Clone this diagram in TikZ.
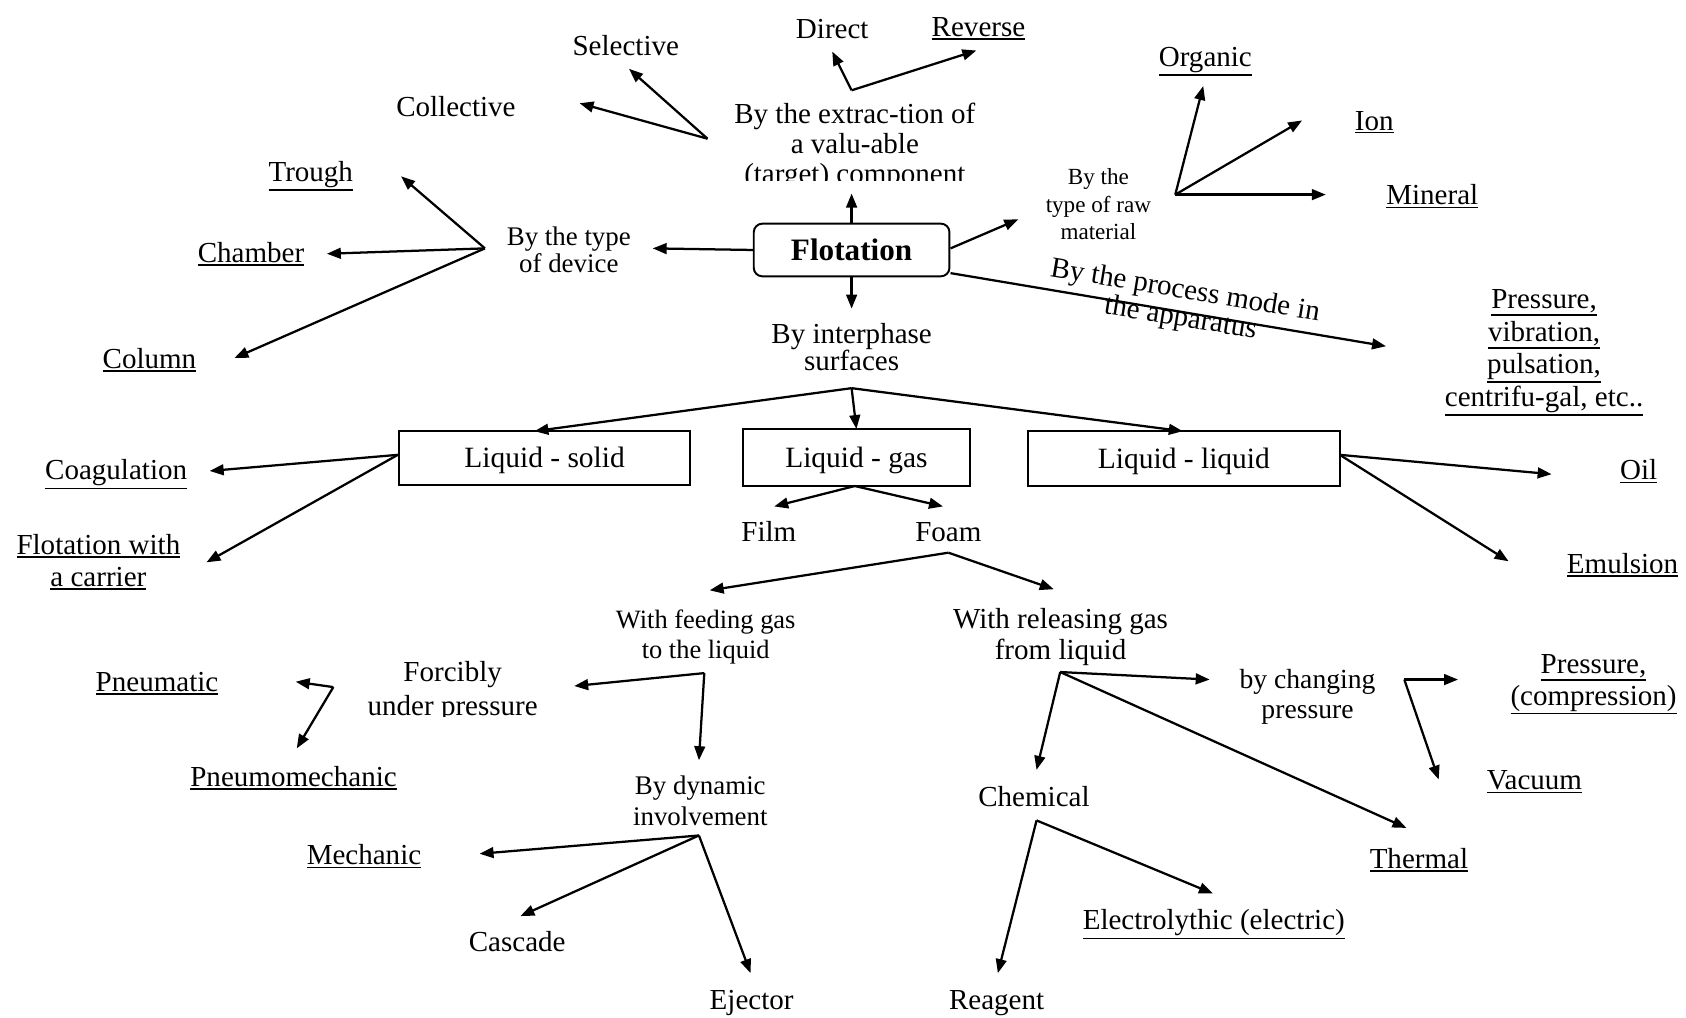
\documentclass[tikz,border=0pt]{standalone}
\usepackage{fontspec}
\setmainfont{Liberation Serif}
\usetikzlibrary{arrows.meta}
\newcommand\fs[2]{\fontsize{\fpeval{#1/2}pt}{\fpeval{#2/2}pt}\selectfont}
\newcommand\ul[1]{\setbox0=\hbox{#1}\leavevmode\rlap{\rule[\dimexpr-\dp0-1.4pt\relax]{\wd0}{0.8pt}}\box0}
\tikzset{
  every node/.style={inner sep=0pt, outer sep=0pt},
  lbl/.style={anchor=base, align=center, font=\fs{27}{28}},
  arr/.style={line width=1.05pt, -{Triangle[length=6.5pt,width=5pt]}},
  box/.style={draw, line width=0.8pt, font=\fs{27.4}{28}, text height=9pt, text depth=0pt},
  flotbox/.style={draw, line width=0.9pt, rounded corners=4pt, font=\bfseries\fs{29}{29}, text height=9.6pt, text depth=0pt,
     minimum width=91pt, minimum height=24.5pt}
}
\begin{document}
\begin{tikzpicture}[x=0.5pt,y=-0.5pt]
\useasboundingbox (0,0) rectangle (1568,946);

% ---------- text nodes (multi-line: base = last line) ----------
\node[lbl] (sel) at (582,52) {Selective};
\node[lbl] (dir) at (774,36) {Direct};
\node[lbl] (rev) at (910,34) {\ul{Reverse}};
\node[lbl] (col) at (424,108.5) {Collective};
\begin{scope}
  \clip (600,60) rectangle (1000,168);
  \node[lbl, font=\fs{27}{27.9}] (ext) at (795,170.5) {By the extrac-tion of\\a valu-able\\(target) component};
\end{scope}
\node[flotbox] (flot) at (792,232.5) {Flotation};
\node[lbl, font=\fs{25}{25.5}] (dev) at (529,253.5) {By the type\\of device};
\node[lbl] (tro) at (289,169) {\ul{Trough}};
\node[lbl] (cha) at (233.5,244.3) {\ul{Chamber}};
\node[lbl] (clm) at (139,342.5) {\ul{Column}};
\node[lbl, font=\fs{21.5}{25.6}] (raw) at (1021.5,223.2) {By the\\type of raw\\material};
\node[lbl] (org) at (1121,62) {\ul{Organic}};
\node[lbl] (ion) at (1278,121) {\ul{Ion}};
\node[lbl] (min) at (1332,190.6) {\ul{Mineral}};
\node[align=center, font=\fs{27}{26}, rotate=-9.4] (proc) at (1100,284) {By the process mode in\\the apparatus};
\node[lbl, font=\fs{27}{30.5}] (pvp) at (1436,378.2) {\ul{Pressure,}\\\ul{vibration,}\\\ul{pulsation,}\\\ul{centrifu-gal, etc..}};
\node[lbl, font=\fs{27}{25.5}] (inter) at (792,344.8) {By interphase\\surfaces};

\node[box, minimum width=135.5pt, minimum height=25pt] (ls) at (506.5,426) {Liquid - solid};
\node[box, minimum width=105.5pt, minimum height=26.5pt] (lg) at (796.5,425.5) {Liquid - gas};
\node[box, minimum width=145pt, minimum height=25.5pt] (ll) at (1101,426.5) {Liquid - liquid};

\node[lbl] (coag) at (108,446.4) {\ul{Coagulation}};
\node[lbl, font=\fs{27}{29.6}] (fwc) at (91.5,545.6) {\ul{Flotation with}\\\ul{a carrier}};
\node[lbl] (film) at (715,503.7) {Film};
\node[lbl] (foam) at (882,504) {Foam};
\node[lbl] (oil) at (1524,446.4) {\ul{Oil}};
\node[lbl] (emu) at (1509,533.2) {\ul{Emulsion}};
\node[lbl, font=\fs{24.6}{28}] (feed) at (656.3,612.3) {With feeding gas\\to the liquid};
\node[lbl, font=\fs{27}{29.5}] (rel) at (986.3,613.8) {With releasing gas\\from liquid};
\begin{scope}
  \clip (300,600) rectangle (560,666);
  \node[lbl, font=\fs{27}{31}] (forc) at (421,665) {Forcibly\\under pressure};
\end{scope}
\node[lbl] (pneu) at (146,643.2) {\ul{Pneumatic}};
\node[lbl] (pm) at (273,731.6) {\ul{Pneumomechanic}};
\node[lbl, font=\fs{25}{28}] (dyn) at (651.3,767.3) {By dynamic\\involvement};
\node[lbl] (mech) at (338.5,804.4) {\ul{Mechanic}};
\node[lbl] (casc) at (481,885) {Cascade};
\node[lbl] (ej) at (699,939.3) {Ejector};
\node[lbl, font=\fs{25.7}{28}] (chg) at (1216,668.2) {by changing\\pressure};
\node[lbl, font=\fs{27}{29.5}] (pc) at (1482,655.7) {\ul{Pressure,}\\\ul{(compression)}};
\node[lbl] (vac) at (1427,734.7) {\ul{Vacuum}};
\node[lbl] (therm) at (1319.6,807.5) {\ul{Thermal}};
\node[lbl] (chem) at (961.6,749.6) {Chemical};
\node[lbl] (el) at (1128.8,864.9) {\ul{Electrolythic (electric)}};
\node[lbl] (reag) at (926.8,939.3) {Reagent};

% ---------- connector points ----------
\coordinate (extO) at (658,129);
\coordinate (colT) at (539,96);
\coordinate (selT) at (585,64);
\coordinate (drO) at (792,84);
\coordinate (dirT) at (774,48);
\coordinate (revT) at (908,47);
\coordinate (extT) at (792,180);
\coordinate (devT) at (607,231);
\coordinate (devO) at (451,231);
\coordinate (troT) at (373,164);
\coordinate (chaT) at (304,236);
\coordinate (clmT) at (218,333);
\coordinate (flotE) at (884,231);
\coordinate (flotSE) at (884,254);
\coordinate (rawT) at (947,204);
\coordinate (rawO) at (1093,181);
\coordinate (orgT) at (1119,80);
\coordinate (ionT) at (1211,112);
\coordinate (minT) at (1233,181);
\coordinate (procT) at (1289,322);
\coordinate (interT) at (792,287);
\coordinate (interO) at (792,361);
\coordinate (lsT) at (497,401);
\coordinate (llT) at (1100,401);
\coordinate (lsO) at (370,423);
\coordinate (coagT) at (195,438);
\coordinate (fwcT) at (192,523);
\coordinate (lgO) at (795,452);
\coordinate (filmT) at (720,471);
\coordinate (foamT) at (877,471);
\coordinate (foamO) at (882,514);
\coordinate (feedT) at (660,549);
\coordinate (relT) at (980,548);
\coordinate (llO) at (1246,423);
\coordinate (oilT) at (1443,441);
\coordinate (emuT) at (1403,522);
\coordinate (feedO) at (655,626);
\coordinate (forcT) at (534,638);
\coordinate (dynT) at (650,707);
\coordinate (forcO) at (310,639);
\coordinate (pneuT) at (275,634);
\coordinate (pmT) at (276,696);
\coordinate (dynO) at (650,777);
\coordinate (mechT) at (446,794);
\coordinate (cascT) at (484,852);
\coordinate (ejT) at (698,905);
\coordinate (relO) at (986,625);
\coordinate (chgT) at (1125,632);
\coordinate (chemT) at (964,716);
\coordinate (thermT) at (1308,770);
\coordinate (chgO) at (1306,632);
\coordinate (pcT) at (1356,632);
\coordinate (vacT) at (1338,725);
\coordinate (chemO) at (964,763);
\coordinate (elT) at (1128,831);
\coordinate (reagT) at (928,905);

% ---------- connectors ----------
\draw[arr] (extO) -- (colT);
\draw[arr] (extO) -- (selT);
\draw[arr] (drO) -- (dirT);
\draw[arr] (drO) -- (revT);
\draw[arr] (flot.north) -- (extT);
\draw[arr] (flot.west) -- (devT);
\draw[arr] (devO) -- (troT);
\draw[arr] (devO) -- (chaT);
\draw[arr] (devO) -- (clmT);
\draw[arr] (flotE) -- (rawT);
\draw[arr] (rawO) -- (orgT);
\draw[arr] (rawO) -- (ionT);
\draw[arr] (rawO) -- (minT);
\draw[arr] (flotSE) -- (procT);
\draw[arr] (flot.south) -- (interT);
\draw[arr] (interO) -- (lsT);
\draw[arr] (interO) -- (lg.north);
\draw[arr] (interO) -- (llT);
\draw[arr] (lsO) -- (coagT);
\draw[arr] (lsO) -- (fwcT);
\draw[arr] (lgO) -- (filmT);
\draw[arr] (lgO) -- (foamT);
\draw[arr] (llO) -- (oilT);
\draw[arr] (llO) -- (emuT);
\draw[arr] (foamO) -- (feedT);
\draw[arr] (foamO) -- (relT);
\draw[arr] (feedO) -- (forcT);
\draw[arr] (feedO) -- (dynT);
\draw[arr] (forcO) -- (pneuT);
\draw[arr] (forcO) -- (pmT);
\draw[arr] (dynO) -- (mechT);
\draw[arr] (dynO) -- (cascT);
\draw[arr] (dynO) -- (ejT);
\draw[arr] (relO) -- (chgT);
\draw[arr] (relO) -- (chemT);
\draw[arr] (relO) -- (thermT);
\draw[arr] (chgO) -- (pcT);
\draw[arr] (chgO) -- (vacT);
\draw[arr] (chemO) -- (elT);
\draw[arr] (chemO) -- (reagT);
\end{tikzpicture}
\end{document}
